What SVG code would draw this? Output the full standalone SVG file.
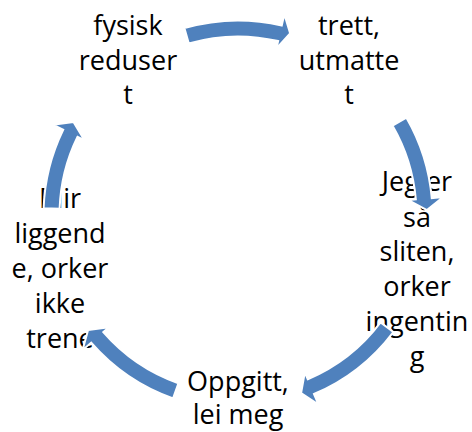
<svg xmlns="http://www.w3.org/2000/svg" width="472" height="432" viewBox="0 0 472 432">
<style>
  .lbl { font-family: "Open Sans", "Liberation Sans", sans-serif; font-size: 27px; fill: #000; text-anchor: middle; }
  .arr { fill: #4F81BD; stroke: #FFFFFF; stroke-width: 2; stroke-linejoin: miter; }
</style>
<rect width="472" height="432" fill="#FFFFFF"/>
<g id="node-fysisk">
  <text class="lbl" x="128"><tspan x="128" y="35">fysisk</tspan><tspan x="128" y="69.5">reduser</tspan><tspan x="128" y="104">t</tspan></text>
</g>
<g id="node-trett">
  <text class="lbl" x="349"><tspan x="349" y="35">trett,</tspan><tspan x="349" y="69.5">utmatte</tspan><tspan x="349" y="104">t</tspan></text>
</g>
<g id="node-sliten">
  <text class="lbl" x="417"><tspan x="417" y="191">Jeg er</tspan><tspan x="417" y="227">så</tspan><tspan x="417" y="261">sliten,</tspan><tspan x="417" y="296">orker</tspan><tspan x="417" y="331">ingentin</tspan><tspan x="417" y="366">g</tspan></text>
</g>
<g id="node-oppgitt">
  <text class="lbl" x="238"><tspan x="238" y="391">Oppgitt,</tspan><tspan x="238" y="424">lei meg</tspan></text>
</g>
<g id="node-blir">
  <text class="lbl" x="60"><tspan x="60" y="208">Blir</tspan><tspan x="60" y="243">liggend</tspan><tspan x="60" y="278">e, orker</tspan><tspan x="60" y="313">ikke</tspan><tspan x="60" y="348">trene</tspan></text>
</g>
<g id="connectors">
  <path class="arr" d="M184.39,28.03 A194.5,194.5 0 0 1 281.75,25.49 L284.34,14.28 L290.10,33.32 L276.47,48.38 L278.15,41.07 A178.5,178.5 0 0 0 188.80,43.41 Z"/>
  <path class="arr" d="M406.44,117.75 A194.5,194.5 0 0 1 431.76,198.05 L443.22,197.05 L426.94,210.05 L408.35,200.10 L415.82,199.44 A178.5,178.5 0 0 0 392.59,125.75 Z"/>
  <path class="arr" d="M393.34,332.05 A194.5,194.5 0 0 1 314.00,394.04 L318.49,404.62 L301.09,393.16 L304.82,372.41 L307.75,379.31 A178.5,178.5 0 0 0 380.56,322.42 Z"/>
  <path class="arr" d="M173.07,398.34 A194.5,194.5 0 0 1 91.21,342.60 L82.53,350.15 L88.06,330.06 L108.95,327.19 L103.28,332.11 A178.5,178.5 0 0 0 178.42,383.26 Z"/>
  <path class="arr" d="M43.62,208.21 A194.5,194.5 0 0 1 63.19,129.74 L52.85,124.70 L73.50,121.93 L84.31,140.04 L77.57,136.75 A178.5,178.5 0 0 0 59.61,208.77 Z"/>
</g>
</svg>
